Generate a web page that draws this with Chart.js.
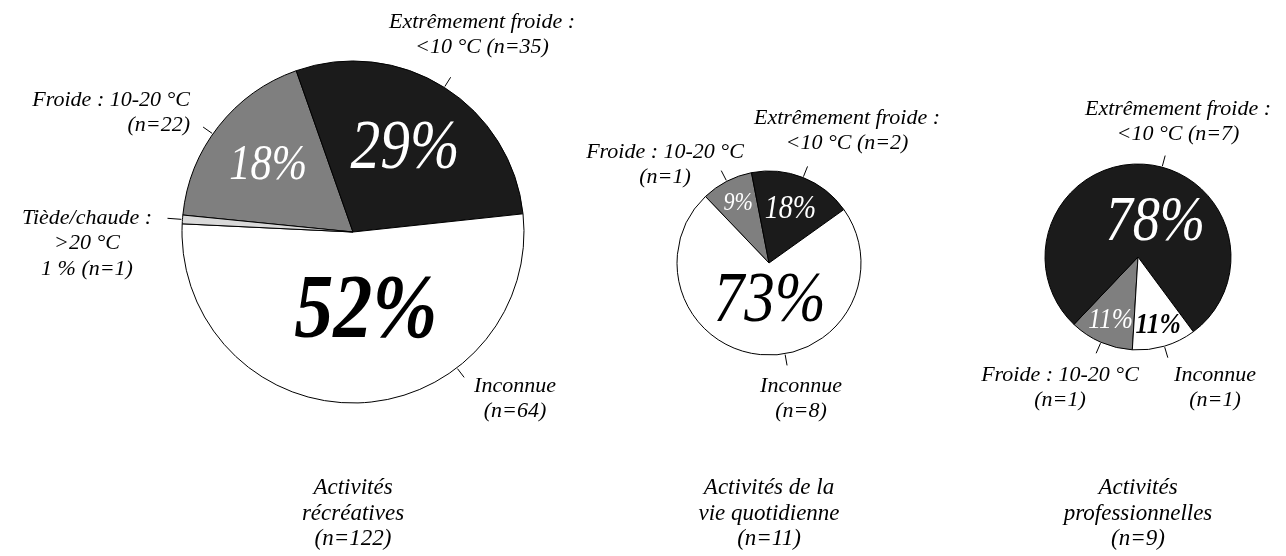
<!DOCTYPE html>
<html>
<head>
<meta charset="utf-8">
<script src="https://cdn.jsdelivr.net/npm/chart.js@4.4.0/dist/chart.umd.min.js"></script>
<style>
  body { margin: 0; background: #fff; }
  .box { position: absolute; top: 0; height: 556px; }
</style>
</head>
<body>
<div class="box" style="left:0;width:575px"><canvas id="pie1"></canvas></div>
<div class="box" style="left:575px;width:390px"><canvas id="pie2"></canvas></div>
<div class="box" style="left:965px;width:321px"><canvas id="pie3"></canvas></div>
<script>
// data (counts per temperature class)
var categories = ["Froide : 10-20 °C", "Extrêmement froide : <10 °C", "Inconnue", "Tiède/chaude : >20 °C"];
var recreatives = [22, 35, 64, 1];
var quotidienne = [1, 2, 8];
var professionnelles = [1, 7, 1];
var groupTitles = [
  ["Activités", "récréatives", "(n={total})"],
  ["Activités de la", "vie quotidienne", "(n={total})"],
  ["Activités", "professionnelles", "(n={total})"]
];
var sliceColors = ["#7f7f7f", "#1b1b1b", "#ffffff", "#d9d9d9"];
var pctColors = ["#ffffff", "#ffffff", "#000000", "#000000"];

var FONT = '"Liberation Serif", "Times New Roman", serif';
var labelConfig = {};

function drawText(ctx, txt, x, y, size, bold, sx) {
  ctx.save();
  ctx.translate(x, y);
  ctx.scale(sx || 1, 1);
  ctx.font = "italic " + (bold ? "bold " : "") + size + "px " + FONT;
  ctx.fillText(txt, 0, 0);
  ctx.restore();
}

var pieLabels = {
  id: "pieLabels",
  afterDraw: function (chart) {
    var o = labelConfig[chart.canvas.id];
    if (!o) return;
    var ctx = chart.ctx;
    var arcs = chart.getDatasetMeta(0).data;
    var data = chart.data.datasets[0].data;
    var total = data.reduce(function (a, b) { return a + b; }, 0);
    var cx = arcs[0].x, cy = arcs[0].y, r = arcs[0].outerRadius;
    function ang(i, deg) {
      if (deg != null) return deg * Math.PI / 180 - Math.PI / 2;
      return (arcs[i].startAngle + arcs[i].endAngle) / 2;
    }
    ctx.save();
    ctx.textBaseline = "middle";
    ctx.textAlign = "center";

    // percentages inside the slices
    o.inside.forEach(function (p, i) {
      if (!p || !p.size) return;
      var a = ang(i, p.angle);
      ctx.fillStyle = pctColors[i];
      var pct = Math.round(data[i] / total * 100) + "%";
      drawText(ctx, pct, cx + Math.cos(a) * r * p.r, cy + Math.sin(a) * r * p.r, p.size, p.bold, 0.85);
    });

    // leader ticks
    ctx.strokeStyle = "#000";
    ctx.lineWidth = 1;
    o.outside.forEach(function (l, i) {
      var a = ang(i, l.tick);
      var len = l.len || 12;
      ctx.beginPath();
      ctx.moveTo(cx + Math.cos(a) * (r + 1), cy + Math.sin(a) * (r + 1));
      ctx.lineTo(cx + Math.cos(a) * (r + len), cy + Math.sin(a) * (r + len));
      ctx.stroke();
    });

    // outside labels
    ctx.fillStyle = "#000";
    o.outside.forEach(function (l, i) {
      ctx.textAlign = l.align || "center";
      l.lines.forEach(function (s, k) {
        s = s.replace("{n}", data[i]).replace("{pct}", Math.round(data[i] / total * 100));
        drawText(ctx, s, cx + l.dx, cy + l.dy + k * 25.5, 22, false, 1);
      });
    });

    // group title under the pie
    ctx.textAlign = "center";
    o.title.forEach(function (s, k) {
      drawText(ctx, s.replace("{total}", total), cx, 488 + k * 25.5, 23, false, 1);
    });
    ctx.restore();
  }
};

function pad(boxW, cx, cy, r) {
  var side = 2 * r + 1;
  var left = cx - side / 2, top = cy - side / 2;
  return { left: left, top: top, right: boxW - left - side, bottom: 556 - top - side };
}

function makePie(id, values, rotation, padding, labelOpts) {
  labelConfig[id] = labelOpts;
  new Chart(document.getElementById(id).getContext("2d"), {
    type: "pie",
    data: {
      labels: categories.slice(0, values.length),
      datasets: [{
        data: values,
        backgroundColor: sliceColors.slice(0, values.length),
        borderColor: "#000000",
        borderWidth: 1
      }]
    },
    options: {
      responsive: true,
      maintainAspectRatio: false,
      animation: false,
      rotation: rotation,
      layout: { padding: padding },
      plugins: {
        legend: { display: false },
        tooltip: { enabled: false }
      }
    },
    plugins: [pieLabels]
  });
}

makePie("pie1", recreatives, -84.3, pad(575, 353, 232, 171), {
  inside: [
    { r: 0.63, size: 50 },
    { r: 0.57, size: 70 },
    { r: 0.48, angle: 171, size: 92, bold: true },
    {}
  ],
  outside: [
    { lines: ["Froide : 10-20 °C", "(n={n})"], dx: -163, dy: -132, align: "right", tick: -55 },
    { lines: ["Extrêmement froide :", "<10 °C (n={n})"], dx: 129, dy: -210 },
    { lines: ["Inconnue", "(n={n})"], dx: 162, dy: 154, tick: 142.6 },
    { lines: ["Tiède/chaude :", ">20 °C", "{pct} % (n={n})"], dx: -266, dy: -14, len: 15 }
  ],
  title: groupTitles[0]
});

makePie("pie2", quotidienne, -43.7, pad(390, 194, 263, 92), {
  inside: [
    { r: 0.73, size: 26 },
    { r: 0.63, size: 33 },
    { r: 0.43, angle: 179, size: 72 }
  ],
  outside: [
    { lines: ["Froide : 10-20 °C", "(n={n})"], dx: -104, dy: -111 },
    { lines: ["Extrêmement froide :", "<10 °C (n={n})"], dx: 78, dy: -145 },
    { lines: ["Inconnue", "(n={n})"], dx: 32, dy: 123, tick: 170 }
  ],
  title: groupTitles[1]
});

makePie("pie3", professionnelles, 183.5, pad(321, 173, 257, 93), {
  inside: [
    { r: 0.74, size: 30 },
    { r: 0.41, angle: 27, size: 64 },
    { r: 0.76, size: 30, bold: true }
  ],
  outside: [
    { lines: ["Froide : 10-20 °C", "(n={n})"], dx: -78, dy: 118 },
    { lines: ["Extrêmement froide :", "<10 °C (n={n})"], dx: 40, dy: -148, tick: 15 },
    { lines: ["Inconnue", "(n={n})"], dx: 77, dy: 118 }
  ],
  title: groupTitles[2]
});
</script>
</body>
</html>
